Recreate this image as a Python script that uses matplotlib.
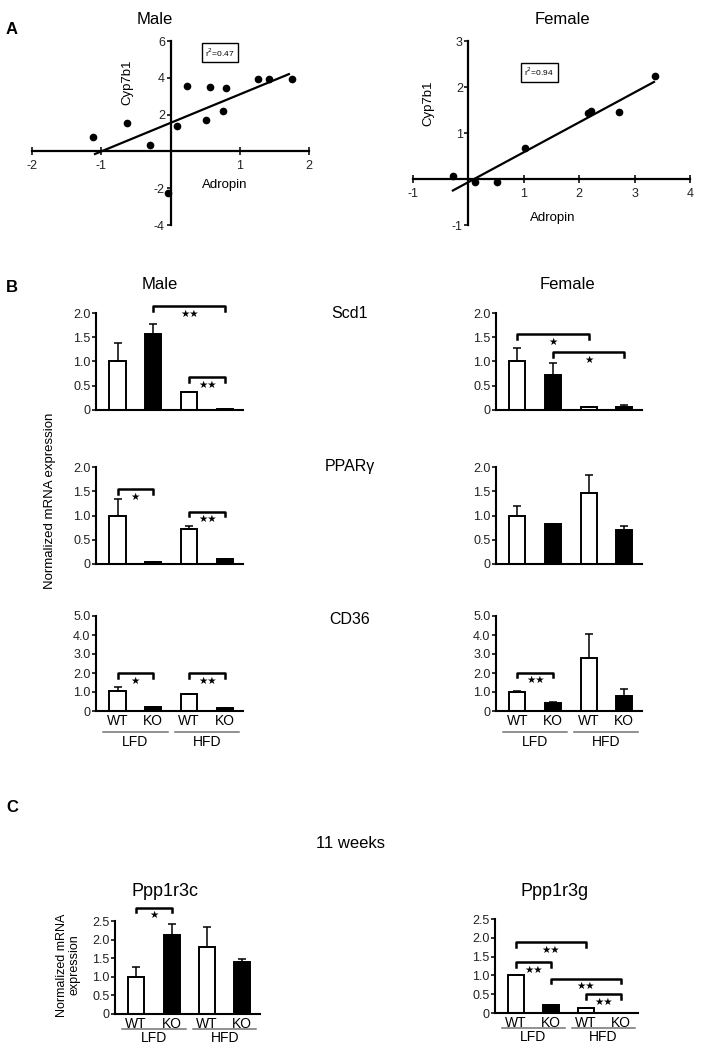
import numpy as np
import matplotlib.pyplot as plt
from matplotlib.transforms import blended_transform_factory

plt.rcParams['font.family'] = ['Liberation Sans', 'DejaVu Sans']

# ---- panel A: Adropin vs Cyp7b1 ----
male_adropin = [-1.12, -0.63, -0.30, -0.04, 0.10, 0.24, 0.51, 0.57, 0.76, 0.80, 1.26, 1.42, 1.75]
male_cyp7b1 = [0.77, 1.57, 0.34, -2.25, 1.39, 3.55, 1.71, 3.48, 2.20, 3.46, 3.96, 3.91, 3.96]
male_fit_x = [-1.09, 1.71]
male_fit_y = [-0.14, 4.20]
male_r2 = 0.47

female_adropin = [-0.28, 0.12, 0.51, 1.03, 2.16, 2.22, 2.71, 3.36]
female_cyp7b1 = [0.06, -0.06, -0.06, 0.67, 1.44, 1.47, 1.46, 2.24]
female_fit_x = [-0.28, 3.35]
female_fit_y = [-0.25, 2.11]
female_r2 = 0.94

# ---- panel B/C: bar data (WT LFD, KO LFD, WT HFD, KO HFD) ----
genotypes = ['WT', 'KO', 'WT', 'KO']
diets = ['LFD', 'HFD']

scd1_male = [1.00, 1.57, 0.38, 0.02]
scd1_male_err = [0.38, 0.20, 0.00, 0.00]
scd1_female = [1.00, 0.73, 0.07, 0.07]
scd1_female_err = [0.28, 0.23, 0.00, 0.03]

pparg_male = [1.00, 0.05, 0.72, 0.10]
pparg_male_err = [0.33, 0.00, 0.07, 0.00]
pparg_female = [1.00, 0.83, 1.46, 0.70]
pparg_female_err = [0.20, 0.00, 0.38, 0.08]

cd36_male = [1.03, 0.22, 0.88, 0.18]
cd36_male_err = [0.25, 0.00, 0.00, 0.00]
cd36_female = [1.02, 0.40, 2.78, 0.80]
cd36_female_err = [0.05, 0.05, 1.25, 0.38]

ppp1r3c = [1.00, 2.13, 1.80, 1.40]
ppp1r3c_err = [0.27, 0.28, 0.55, 0.07]
ppp1r3g = [1.00, 0.20, 0.13, 0.01]
ppp1r3g_err = [0.02, 0.00, 0.00, 0.00]

# significance brackets: (bar i, bar j, height, label)
scd1_male_sig = [(1, 3, 2.14, '**'), (2, 3, 0.68, '**')]
scd1_female_sig = [(0, 2, 1.57, '*'), (1, 3, 1.19, '*')]
pparg_male_sig = [(0, 1, 1.54, '*'), (2, 3, 1.08, '**')]
cd36_male_sig = [(0, 1, 2.0, '*'), (2, 3, 2.0, '**')]
cd36_female_sig = [(0, 1, 2.02, '**')]
ppp1r3c_sig = [(0, 1, 2.86, '*')]
ppp1r3g_sig = [(0, 2, 1.88, '**'), (0, 1, 1.36, '**'), (1, 3, 0.91, '**'), (2, 3, 0.51, '**')]

W, H = 705, 1050
fig = plt.figure(figsize=(7.05, 10.5), dpi=100)
TICK = 9


def px_axes(x0, y0, x1, y1):
    return fig.add_axes([x0 / W, 1 - y1 / H, (x1 - x0) / W, (y1 - y0) / H])


def ftext(x, y, s, **kw):
    fig.text(x / W, 1 - y / H, s, ha='center', va='center', **kw)


def scatter_panel(rect, xs, ys, fx, fy, r2, xlim, ylim, xticks, yticks, r2pos, ylab_pos, xlab_pos):
    ax = px_axes(*rect)
    ax.plot(xs, ys, 'o', color='black', markersize=4.5)
    ax.plot(fx, fy, '-', color='black', lw=1.6)
    ax.set_xlim(*xlim)
    ax.set_ylim(*ylim)
    for s in ['top', 'right']:
        ax.spines[s].set_visible(False)
    ax.spines['left'].set_position('zero')
    ax.spines['bottom'].set_position('zero')
    for s in ['left', 'bottom']:
        ax.spines[s].set_linewidth(1.6)
    ax.set_xticks(xticks)
    ax.set_yticks(yticks)
    ax.set_xticklabels([str(t) for t in xticks])
    ax.set_yticklabels([str(t) for t in yticks])
    ax.tick_params(axis='x', direction='inout', length=6, width=1.3, labelsize=TICK, colors='#222222')
    ax.tick_params(axis='y', direction='out', length=3, width=1.3, labelsize=TICK, colors='#222222', pad=1)
    ax.text(r2pos[0], r2pos[1], 'r$^2$=%.2f' % r2, fontsize=6, ha='center', va='center',
            bbox=dict(boxstyle='square,pad=0.4', fc='white', ec='black', lw=1))
    ax.text(ylab_pos[0], ylab_pos[1], 'Cyp7b1', rotation=90, fontsize=9.5, ha='center', va='center')
    ax.text(xlab_pos[0], xlab_pos[1], 'Adropin', fontsize=9.5, ha='center', va='center')
    return ax


scatter_panel((32, 41, 309, 225), male_adropin, male_cyp7b1, male_fit_x, male_fit_y, male_r2,
              (-2, 2), (-4, 6), [-2, -1, 1, 2], [-4, -2, 2, 4, 6], (0.71, 5.35), (-0.62, 3.75), (0.78, -1.85))
scatter_panel((413, 41, 690, 225), female_adropin, female_cyp7b1, female_fit_x, female_fit_y, female_r2,
              (-1, 4), (-1, 3), [-1, 1, 2, 3, 4], [-1, 1, 2, 3], (1.28, 2.32), (-0.72, 1.65), (1.53, -0.85))


def bar_panel(rect, vals, errs, ymax, yticks, yticklabels, sig, show_x=False, line_y=-0.22, diet_y=-0.33):
    ax = px_axes(*rect)
    x = np.arange(len(vals))
    colors = ['white', 'black', 'white', 'black']
    ax.bar(x, vals, width=0.45, color=colors, edgecolor='black', linewidth=1.4,
           yerr=[np.zeros(len(vals)), errs],
           error_kw=dict(ecolor='black', elinewidth=1.1, capsize=3, capthick=1.1))
    ax.set_xlim(-0.6, 3.5)
    ax.set_ylim(0, ymax)
    for s in ['top', 'right']:
        ax.spines[s].set_visible(False)
    for s in ['left', 'bottom']:
        ax.spines[s].set_linewidth(1.5)
    ax.set_yticks(yticks)
    ax.set_yticklabels(yticklabels)
    ax.tick_params(axis='y', direction='out', length=3, width=1.3, labelsize=TICK, colors='#222222', pad=1)
    ax.set_xticks(x)
    if show_x:
        ax.set_xticklabels(genotypes)
        ax.tick_params(axis='x', length=0, labelsize=10, pad=2)
        tr = blended_transform_factory(ax.transData, ax.transAxes)
        for k, d in enumerate(diets):
            a, b = 2 * k - 0.4, 2 * k + 1.4
            ax.plot([a, b], [line_y, line_y], color='0.45', lw=1.1, transform=tr, clip_on=False)
            ax.text((a + b) / 2, diet_y, d, transform=tr, ha='center', va='center', fontsize=10)
    else:
        ax.set_xticklabels([])
        ax.tick_params(axis='x', length=0)
    h = 0.05 * ymax
    for i, j, y, lab in sig:
        ax.plot([i, i, j, j], [y - h, y, y, y - h], color='black', lw=1.8, clip_on=False)
        ax.annotate(lab.replace('*', '\u2605'), xy=((i + j) / 2, y), xytext=(0, -5.5),
                    textcoords='offset points', ha='center', va='center', fontsize=7.5,
                    family='DejaVu Sans', annotation_clip=False)
    return ax


t2 = [0, 0.5, 1.0, 1.5, 2.0]
t2l = ['0', '0.5', '1.0', '1.5', '2.0']
t5 = [0, 1, 2, 3, 4, 5]
t5l = ['0', '1.0', '2.0', '3.0', '4.0', '5.0']
t25 = [0, 0.5, 1.0, 1.5, 2.0, 2.5]
t25l = ['0', '0.5', '1.0', '1.5', '2.0', '2.5']

bar_panel((96, 313, 243, 410), scd1_male, scd1_male_err, 2.0, t2, t2l, scd1_male_sig)
bar_panel((496, 313, 642, 410), scd1_female, scd1_female_err, 2.0, t2, t2l, scd1_female_sig)
bar_panel((96, 467, 243, 564), pparg_male, pparg_male_err, 2.0, t2, t2l, pparg_male_sig)
bar_panel((496, 467, 642, 564), pparg_female, pparg_female_err, 2.0, t2, t2l, [])
bar_panel((96, 616, 243, 711), cd36_male, cd36_male_err, 5.0, t5, t5l, cd36_male_sig, show_x=True)
bar_panel((496, 616, 642, 711), cd36_female, cd36_female_err, 5.0, t5, t5l, cd36_female_sig, show_x=True)
bar_panel((115, 921, 260, 1014), ppp1r3c, ppp1r3c_err, 2.5, t25, t25l, ppp1r3c_sig, show_x=True,
          line_y=-0.16, diet_y=-0.26)
bar_panel((495, 919, 638, 1013), ppp1r3g, ppp1r3g_err, 2.5, t25, t25l, ppp1r3g_sig, show_x=True,
          line_y=-0.16, diet_y=-0.26)

# labels and titles
ftext(12, 30, 'A', fontsize=12, fontweight='bold')
ftext(12, 287, 'B', fontsize=12, fontweight='bold')
ftext(12, 808, 'C', fontsize=12, fontweight='bold')
ftext(155, 19, 'Male', fontsize=12)
ftext(562, 19, 'Female', fontsize=12)
ftext(160, 285, 'Male', fontsize=12)
ftext(567, 285, 'Female', fontsize=12)
ftext(350, 313, 'Scd1', fontsize=11.5)
ftext(350, 467, 'PPARγ', fontsize=11.5)
ftext(350, 620, 'CD36', fontsize=11.5)
ftext(50, 501, 'Normalized mRNA expression', fontsize=9.5, rotation=90)
ftext(350, 843, '11 weeks', fontsize=12)
ftext(165, 891, 'Ppp1r3c', fontsize=13)
ftext(555, 891, 'Ppp1r3g', fontsize=13)
ftext(68, 965, 'Normalized mRNA\nexpression', fontsize=9, rotation=90, linespacing=1.1)

fig.savefig('out.png', dpi=100)
